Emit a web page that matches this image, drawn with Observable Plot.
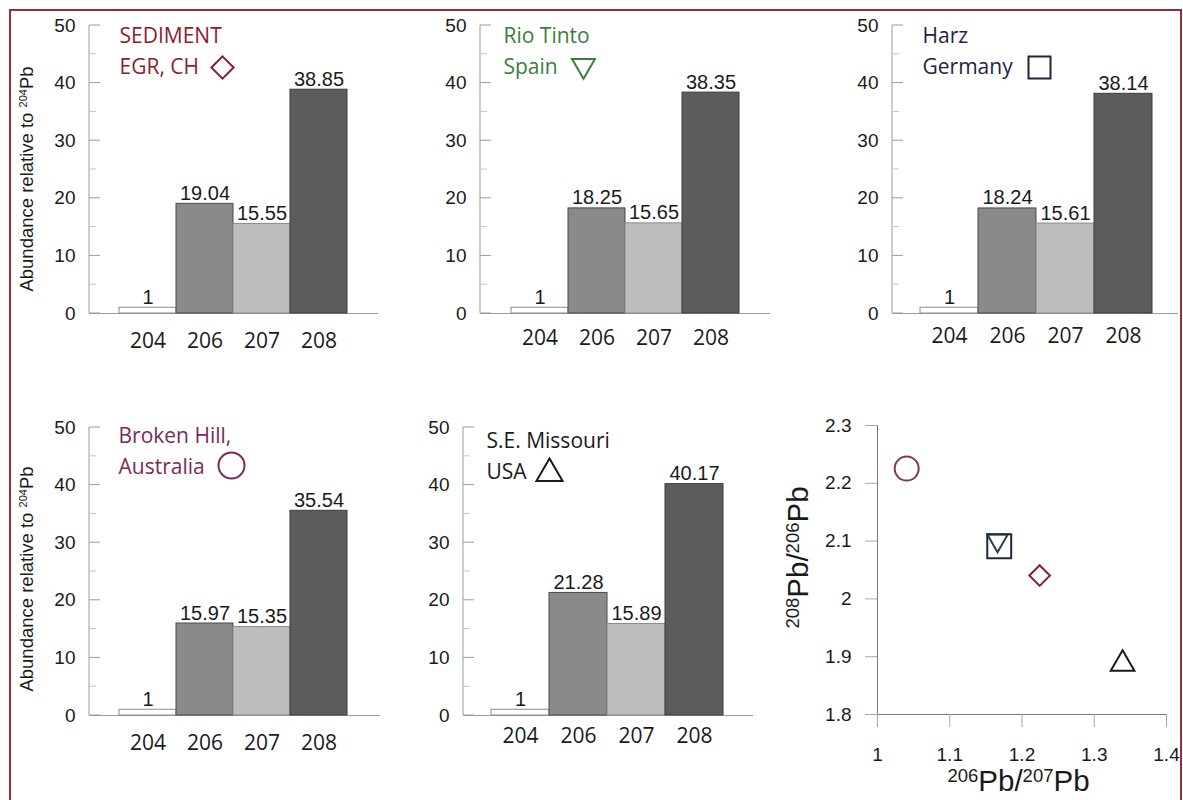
<!DOCTYPE html>
<html>
<head>
<meta charset="utf-8">
<script src="https://cdn.jsdelivr.net/npm/d3@7"></script>
<script src="https://cdn.jsdelivr.net/npm/@observablehq/plot@0.6"></script>
<style>
  body { margin: 0; background: #fff; }
  #wrap { position: relative; width: 1183px; height: 800px; overflow: hidden; background: #fff; }
  #wrap > .panel { position: absolute; }
  #border { position: absolute; left: 9px; top: 9px; width: 1169px; height: 830px; border: 2px solid #9b2b37; pointer-events: none; }
</style>
</head>
<body>
<div id="wrap"></div>
<script>
// ---------------- data ----------------
const isotopes = ["204", "206", "207", "208"];
const sedimentEGR = [1, 19.04, 15.55, 38.85];
const rioTinto   = [1, 18.25, 15.65, 38.35];
const harz       = [1, 18.24, 15.61, 38.14];
const brokenHill = [1, 15.97, 15.35, 35.54];
const seMissouri = [1, 21.28, 15.89, 40.17];
const siteTitles = ["SEDIMENT\nEGR, CH", "Rio Tinto\nSpain", "Harz\nGermany", "Broken Hill,\nAustralia", "S.E. Missouri\nUSA"];
const abundanceTicks = [0, 10, 20, 30, 40, 50];
const abundanceMinorTicks = [5, 15, 25, 35, 45];
const ratioXTicks = [1, 1.1, 1.2, 1.3, 1.4];
const ratioYTicks = [1.8, 1.9, 2, 2.1, 2.2, 2.3];
// axis titles: [text, isSuperscript]
const yLabelBars = [["Abundance relative to ", false], ["204", true], ["Pb", false]];
const xLabelRatio = [["206", true], ["Pb/", false], ["207", true], ["Pb", false]];
const yLabelRatio = [["208", true], ["Pb/", false], ["206", true], ["Pb", false]];

// ---------------- styles / layout ----------------
const barFill = {"204": "#ffffff", "206": "#8a8a8a", "207": "#bdbdbd", "208": "#5c5c5c"};
const barStroke = {"204": "#8c8c8c", "206": "#4a4a4a", "207": "#8a8a8a", "208": "#3c3c3c"};

const triangleDown = {
  draw(context, size) {
    const y = -Math.sqrt(size / (Math.sqrt(3) * 3));
    const s3 = Math.sqrt(3);
    context.moveTo(0, -y * 2);
    context.lineTo(-s3 * y, y);
    context.lineTo(s3 * y, y);
    context.closePath();
  }
};

const sites = [
  {values: sedimentEGR, title: siteTitles[0], color: "#8c1d2e", symbol: "diamond2", r: 10, scatterR: 9.3, scatterColor: "#8c1d2e",
   left: 9, top: 0, width: 369, insetLeft: 28, insetRight: 30, tdx: 30, tdy: -4, sdx: 133, sdy: 42, xPad: 20, yLabel: true, ylDy: 10},
  {values: rioTinto, title: siteTitles[1], color: "#3c7d3c", symbol: triangleDown, r: 8.5, scatterR: 7.6, scatterColor: "#2c3e4c",
   left: 400, top: 0, width: 370, insetLeft: 29, insetRight: 30, tdx: 23, tdy: -4, sdx: 103, sdy: 40, xPad: 17, yLabel: false},
  {values: harz, title: siteTitles[2], color: "#1f2344", symbol: "square", r: 12.4, scatterR: 13.5, scatterColor: "#1c2b3a",
   left: 812, top: 0, width: 366, insetLeft: 28, insetRight: 26, tdx: 30, tdy: -4, sdx: 147, sdy: 42, xPad: 15, yLabel: false},
  {values: brokenHill, title: siteTitles[3], color: "#7a2b5b", symbol: "circle", r: 13, scatterR: 12, scatterColor: "#7d3a52",
   left: 9, top: 402, width: 371, insetLeft: 29, insetRight: 32, tdx: 29, tdy: -6, sdx: 142, sdy: 38, xPad: 20, yLabel: true, ylDy: 8},
  {values: seMissouri, title: siteTitles[4], color: "#1a1a1a", symbol: "triangle", r: 9.7, scatterR: 8.8, scatterColor: "#1a1a1a",
   left: 383, top: 402, width: 370, insetLeft: 28, insetRight: 30, tdx: 23, tdy: -1, sdx: 86, sdy: 46, xPad: 13, yLabel: false}
];

const sansNum = "'Liberation Sans', Arial, Helvetica, sans-serif";
const sansTxt = "'Open Sans', 'Noto Sans', sans-serif";

// y axis line + inner ticks for bar panels (drawn from the y scale)
function abundanceGuide(index, scales, values, dimensions) {
  const x0 = dimensions.marginLeft;
  const g = d3.create("svg:g").attr("stroke", "#9c9c9c").attr("stroke-width", 1).attr("fill", "none");
  g.append("line").attr("x1", x0).attr("x2", x0)
    .attr("y1", scales.y(d3.max(abundanceTicks))).attr("y2", scales.y(d3.min(abundanceTicks)));
  for (const t of abundanceTicks)
    g.append("line").attr("x1", x0).attr("x2", x0 + 11).attr("y1", scales.y(t)).attr("y2", scales.y(t));
  for (const t of abundanceMinorTicks)
    g.append("line").attr("x1", x0).attr("x2", x0 + 7).attr("y1", scales.y(t)).attr("y2", scales.y(t)).attr("stroke", "#c4c4c4");
  return g.node();
}

// axis title with real superscripts, anchored on the frame
function richLabel(parts, {anchor, dx = 0, dy = 0, rotate = 0, size, supSize, shift}) {
  return (index, scales, values, dim) => {
    const {width, height, marginLeft, marginRight, marginTop, marginBottom} = dim;
    let x, y;
    if (anchor === "left") { x = marginLeft; y = (marginTop + height - marginBottom) / 2; }
    else { x = (marginLeft + width - marginRight) / 2; y = height - marginBottom; }
    const t = d3.create("svg:text")
      .attr("transform", `translate(${x + dx},${y + dy}) rotate(${rotate})`)
      .attr("text-anchor", "middle").attr("font-family", sansNum)
      .attr("font-size", size).attr("fill", "#1a1a1a");
    let raised = false;
    for (const [txt, sup] of parts) {
      const sp = t.append("tspan").text(txt);
      if (sup && !raised) { sp.attr("font-size", supSize).attr("dy", -shift); raised = true; }
      else if (!sup && raised) { sp.attr("dy", shift); raised = false; }
      else if (sup) sp.attr("font-size", supSize);
    }
    return t.node();
  };
}

const wrap = document.getElementById("wrap");

function place(node, left, top) {
  node.classList.add("panel");
  node.style.left = left + "px";
  node.style.top = top + "px";
  wrap.appendChild(node);
}

for (const s of sites) {
  const rows = isotopes.map((iso, i) => ({iso, value: s.values[i]}));
  const marks = [
    abundanceGuide,
    Plot.ruleY([0], {stroke: "#9c9c9c"}),
    Plot.barY(rows, {x: "iso", y: "value", fill: d => barFill[d.iso], stroke: d => barStroke[d.iso], strokeWidth: 1}),
    Plot.text(rows, {x: "iso", y: "value", text: d => String(d.value), lineAnchor: "bottom", dy: -4,
      fontSize: 20, fontFamily: sansNum, fill: "#1a1a1a", stroke: "white", strokeWidth: 3, paintOrder: "stroke"}),
    Plot.axisY({ticks: abundanceTicks, tickSize: 0, tickPadding: 14, fontSize: 19, fontFamily: sansNum, label: null, fill: "#1a1a1a"}),
    Plot.axisX({tickSize: 0, tickPadding: s.xPad, fontSize: 21, fontFamily: sansTxt, label: null, fill: "#1a1a1a"}),
    Plot.text([s.title], {frameAnchor: "top-left", textAnchor: "start", lineAnchor: "top", dx: s.tdx, dy: s.tdy,
      fontSize: 21, fontFamily: sansTxt, fill: s.color, lineHeight: 1.45}),
    Plot.dot([s.title], {frameAnchor: "top-left", dx: s.sdx, dy: s.sdy, symbol: s.symbol, r: s.r,
      stroke: s.color, strokeWidth: 2, fill: "none"})
  ];
  if (s.yLabel) {
    marks.push(richLabel(yLabelBars, {anchor: "left", rotate: -90, dx: -56, dy: s.ylDy, size: 18.5, supSize: 11, shift: 6}));
  }
  const chart = Plot.plot({
    width: s.width, height: 380,
    marginLeft: 80, marginRight: 0, marginTop: 25, marginBottom: 67,
    style: {background: "transparent", overflow: "visible"},
    x: {type: "band", domain: isotopes, padding: 0, insetLeft: s.insetLeft, insetRight: s.insetRight, label: null},
    y: {domain: [0, 50], label: null},
    marks
  });
  place(chart, s.left, s.top);
}

// ---------------- ratio scatter ----------------
const ratioRows = sites.map(s => ({
  r67: s.values[1] / s.values[2],
  r86: s.values[3] / s.values[1]
}));

const scatterMarks = [
  Plot.ruleX([d3.min(ratioXTicks)], {stroke: "#7a7a7a"}),
  Plot.ruleY([d3.min(ratioYTicks)], {stroke: "#7a7a7a"}),
  Plot.axisX({ticks: ratioXTicks, tickSize: 13, tickPadding: 20, fontSize: 19, fontFamily: sansNum,
    tickFormat: d3.format("~g"), label: null, stroke: "#a8a8a8", fill: "#1a1a1a"}),
  Plot.axisY({ticks: ratioYTicks, tickSize: 12, tickPadding: 14, fontSize: 19, fontFamily: sansNum,
    tickFormat: d3.format("~g"), label: null, stroke: "#a8a8a8", fill: "#1a1a1a"}),
  ...sites.map((s, i) => Plot.dot([ratioRows[i]], {x: "r67", y: "r86", symbol: s.symbol, r: s.scatterR,
    stroke: s.scatterColor, strokeWidth: 2, fill: "none"})),
  richLabel(xLabelRatio, {anchor: "bottom", dx: -3, dy: 77, size: 29.5, supSize: 18.5, shift: 9}),
  richLabel(yLabelRatio, {anchor: "left", rotate: -90, dx: -69, dy: -12, size: 29.5, supSize: 18.5, shift: 9})
];

const scatter = Plot.plot({
  width: 406, height: 400,
  marginLeft: 100, marginRight: 17, marginTop: 25, marginBottom: 86,
  style: {background: "transparent", overflow: "visible"},
  x: {domain: [d3.min(ratioXTicks), d3.max(ratioXTicks)], label: null},
  y: {domain: [d3.min(ratioYTicks), d3.max(ratioYTicks)], label: null},
  marks: scatterMarks
});
place(scatter, 777, 400);

const border = document.createElement("div");
border.id = "border";
wrap.appendChild(border);
</script>
</body>
</html>
